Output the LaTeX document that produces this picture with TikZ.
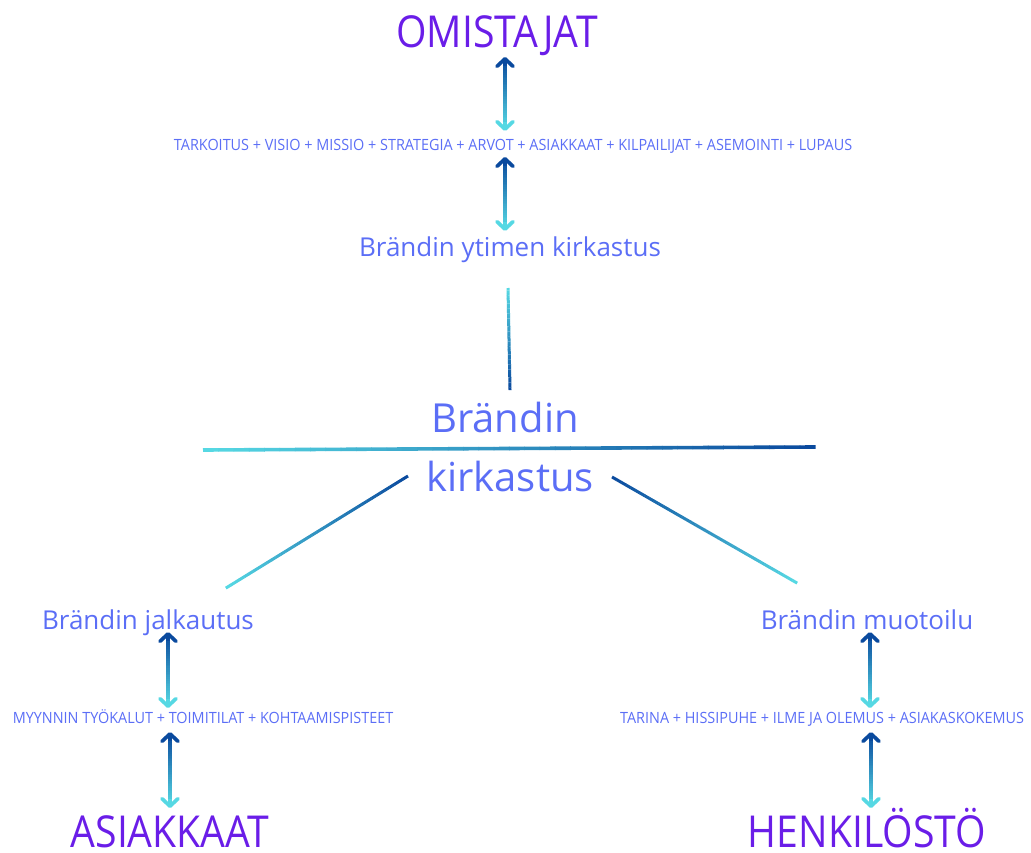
\documentclass[tikz,border=0pt]{standalone}
\usepackage{fontspec}
\setmainfont{Open Sans}
\newfontfamily\cond[FakeStretch=0.93]{Open Sans}
\newfontfamily\bigf[FakeStretch=0.89]{Open Sans}
\usetikzlibrary{arrows.meta,calc}
\definecolor{purp}{HTML}{6A1DE8}
\definecolor{txtblue}{HTML}{5B6EF6}
\definecolor{gdark}{HTML}{0A4A9E}
\definecolor{gcyan}{HTML}{56D8E3}
\newcommand\gradline[4]{% from, to, from-colour, to-colour
  \foreach \i in {0,...,39}{%
    \pgfmathsetmacro\p{100*\i/39}%
    \draw[gline, color=#4!\p!#3] ($(#1)!\i/40!(#2)$) -- ($(#1)!\i/40+0.026!(#2)$);
  }}
\newcommand\gradarrow[2]{% top, bottom
  \foreach \i in {0,...,39}{%
    \pgfmathsetmacro\p{100*\i/39}%
    \draw[garrow, color=gcyan!\p!gdark] ($(#1)!0.03+\i/40*0.94!(#2)$) -- ($(#1)!0.03+\i/40*0.94+0.025!(#2)$);
  }
  \draw[garrow, gdark, -{Straight Barb[length=7.5pt,width=16pt,round]}] ($(#1)!0.12!(#2)$) -- (#1);
  \draw[garrow, gcyan, -{Straight Barb[length=7.5pt,width=16pt,round]}] ($(#2)!0.12!(#1)$) -- (#2);
}
\begin{document}
\begin{tikzpicture}[x=1pt,y=-1pt,
  big/.style={text=purp,font=\bigf\fontsize{44}{44}\selectfont,inner sep=0pt,anchor=base,text depth=0pt},
  mid/.style={text=txtblue,font=\fontsize{26}{26}\selectfont,inner sep=0pt,anchor=base},
  large/.style={text=txtblue,font=\fontsize{40}{40}\selectfont,inner sep=0pt,anchor=base},
  small/.style={text=txtblue,font=\cond\fontsize{15.5}{15.5}\selectfont,inner sep=0pt,anchor=base},
  gline/.style={line width=3pt,line cap=butt},
  garrow/.style={line width=3.7pt,line cap=butt}]
\useasboundingbox (0,0) rectangle (1031,853);

% texts
\node[big]   (own)  at (497,48)  {OMISTAJAT};
\node[small] (l1)   at (513,151) {TARKOITUS + VISIO + MISSIO + STRATEGIA + ARVOT + ASIAKKAAT + KILPAILIJAT + ASEMOINTI + LUPAUS};
\node[mid]   (core) at (510,257) {Brändin ytimen kirkastus};
\node[large] (br)   at (505,432) {Brändin};
\node[large] (kirk) at (510,491) {kirkastus};
\node[mid]   (jalk) at (148,629) {Brändin jalkautus};
\node[small] (l2)   at (203,723) {MYYNNIN TYÖKALUT + TOIMITILAT + KOHTAAMISPISTEET};
\node[big]   (asi)  at (170,847) {ASIAKKAAT};
\node[mid]   (muot) at (867,629) {Brändin muotoilu};
\node[small] (l3)   at (822,723) {TARINA + HISSIPUHE + ILME JA OLEMUS + ASIAKASKOKEMUS};
\node[big]   (henk) at (867,847) {HENKILÖSTÖ};

% connector end points
\coordinate (a1t) at (505,57);  \coordinate (a1b) at (505,131);
\coordinate (a2t) at (505,157); \coordinate (a2b) at (505,231);
\coordinate (a3t) at (168,632); \coordinate (a3b) at (168,708);
\coordinate (a4t) at (170,732); \coordinate (a4b) at (170,808);
\coordinate (a5t) at (870,632); \coordinate (a5b) at (870,708);
\coordinate (a6t) at (871,732); \coordinate (a6b) at (871,808);
\coordinate (vt) at (508,288);  \coordinate (vb) at (510,390);
\coordinate (hl) at (203,450);  \coordinate (hr) at (815,447);
\coordinate (dlt) at (408,476); \coordinate (dlb) at (226,588);
\coordinate (drt) at (612,477); \coordinate (drb) at (797,583);

\gradarrow{a1t}{a1b}
\gradarrow{a2t}{a2b}
\gradarrow{a3t}{a3b}
\gradarrow{a4t}{a4b}
\gradarrow{a5t}{a5b}
\gradarrow{a6t}{a6b}

\gradline{vt}{vb}{gcyan}{gdark}
\begin{scope}[gline/.append style={line width=3.6pt}]
\gradline{hl}{hr}{gcyan}{gdark}
\end{scope}
\gradline{dlt}{dlb}{gdark}{gcyan}
\gradline{drt}{drb}{gdark}{gcyan}
\end{tikzpicture}
\end{document}
